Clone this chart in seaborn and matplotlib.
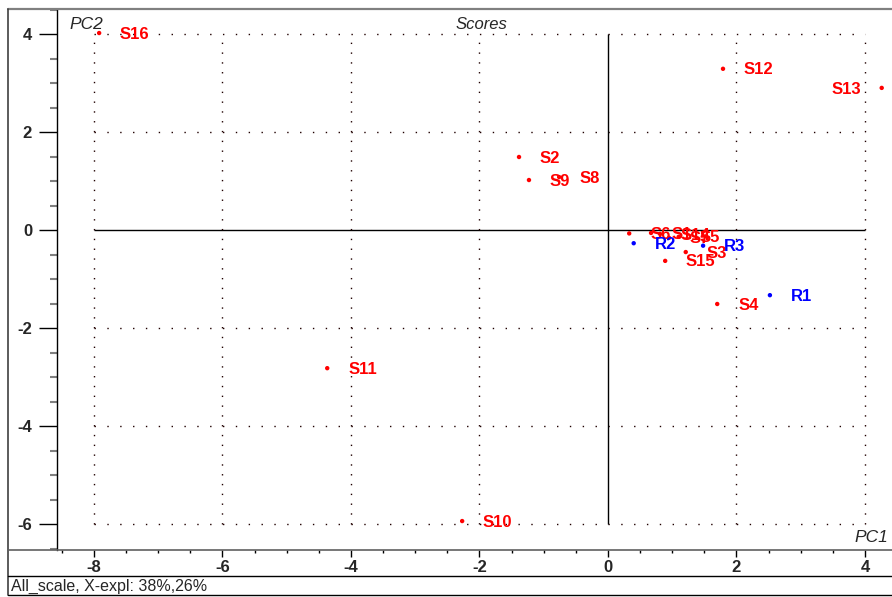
import matplotlib
matplotlib.use("Agg")
import matplotlib.pyplot as plt
from matplotlib.lines import Line2D
import seaborn as sns
import pandas as pd
import numpy as np

# Score values for the first two principal components
samples = ["S1", "S2", "S3", "S4", "S5", "S6", "S7", "S8", "S9", "S10",
           "S11", "S12", "S13", "S14", "S15", "S16", "R1", "R2", "R3"]
pc1 = [0.67, -1.385, 1.21, 1.70, 1.10, 0.33, 0.95, -0.76, -1.23, -2.27,
       -4.37, 1.79, 4.26, 0.81, 0.89, -7.92, 2.52, 0.40, 1.48]
pc2 = [-0.06, 1.49, -0.45, -1.51, -0.14, -0.07, -0.16, 1.08, 1.02, -5.94,
       -2.82, 3.29, 2.90, -0.08, -0.63, 4.02, -1.33, -0.27, -0.32]
groups = ["sample"] * 16 + ["reference"] * 3

x_ticks = [-8, -6, -4, -2, 0, 2, 4]
y_ticks = [-6, -4, -2, 0, 2, 4]

df = pd.DataFrame({"PC1": pc1, "PC2": pc2, "group": groups, "name": samples})
palette = {"sample": "#ff0000", "reference": "#0000ff"}

sns.set_style("white")
plt.rcParams["font.family"] = ["Liberation Sans", "DejaVu Sans"]

W, H = 892, 597
fig = plt.figure(figsize=(W / 100, H / 100), dpi=100)

# plot area in pixel units
left_px, right_px, top_px, bot_px = 57, 892, 9, 550
ax = fig.add_axes([left_px / W, 1 - bot_px / H, (right_px - left_px) / W,
                   (bot_px - top_px) / H])

x0_px, xscale = 608, 64.25
y0_px, yscale = 230, 49.0
ax.set_xlim((left_px - x0_px) / xscale, (right_px - x0_px) / xscale)
ax.set_ylim((y0_px - bot_px) / yscale, (y0_px - top_px) / yscale)

# dotted grid restricted to the tick range
gx0, gx1 = min(x_ticks), max(x_ticks)
gy0, gy1 = min(y_ticks), max(y_ticks)
for yv in y_ticks:
    if yv == 0:
        ax.hlines(yv, gx0, gx1, color="black", lw=1.0, zorder=1)
    else:
        ax.hlines(yv, gx0, gx1, color="#200000", lw=1.0,
                  linestyles=[(0, (1, 8.25))], zorder=1)
for xv in x_ticks:
    if xv == 0:
        ax.vlines(xv, gy0, gy1, color="black", lw=1.0, zorder=1)
    else:
        ax.vlines(xv, gy0, gy1, color="#200000", lw=1.0,
                  linestyles=[(0, (1, 6.06))], zorder=1)

sns.scatterplot(data=df, x="PC1", y="PC2", hue="group", palette=palette,
                s=10, linewidth=0, legend=False, ax=ax, zorder=3)

xmax = ax.get_xlim()[1]
for name, xv, yv, g in zip(samples, pc1, pc2, groups):
    if xv > xmax - 0.6:
        off, ha = -14.5, "right"
    else:
        off, ha = 15, "left"
    ax.annotate(name, (xv, yv), xytext=(off, -0.8), textcoords="offset points",
                ha=ha, va="center", color=palette[g], fontsize=12,
                fontweight="bold", zorder=4)

ax.set_xlabel("")
ax.set_ylabel("")
ax.set_xticks(x_ticks)
ax.set_yticks(y_ticks)
ax.set_xticks(np.arange(-8.5, 4.5, 0.5), minor=True)
ax.set_yticks(np.arange(-6.5, 4.6, 0.5), minor=True)
ax.set_xticklabels([str(v) for v in x_ticks], fontsize=12, fontweight="bold")
ax.set_yticklabels([str(v) for v in y_ticks], fontsize=12, fontweight="bold")
ax.tick_params(axis="y", which="major", direction="out", length=13, width=1,
               color="black", pad=5, left=True)
ax.tick_params(axis="y", which="minor", direction="out", length=5, width=1.5,
               color="#808080", left=True)
ax.tick_params(axis="x", which="major", direction="out", length=5, width=1,
               color="black", pad=2, bottom=True)
ax.tick_params(axis="x", which="minor", direction="out", length=2.5, width=1,
               color="black", bottom=True)

for s in ["top", "right", "bottom"]:
    ax.spines[s].set_visible(False)
ax.spines["left"].set_color("black")
ax.spines["left"].set_linewidth(1.0)

ax.text(0.015, 0.985, "PC2", transform=ax.transAxes, fontsize=12.5,
        fontstyle="italic", ha="left", va="top")
ax.text((481 - left_px) / (right_px - left_px), 0.985, "Scores",
        transform=ax.transAxes, fontsize=12, fontstyle="italic",
        ha="center", va="top")
ax.text(0.995, (bot_px - 537) / (bot_px - top_px), "PC1",
        transform=ax.transAxes, fontsize=12.5, fontstyle="italic",
        ha="right", va="center")

# frame and footer lines in figure pixel coordinates
def fig_line(x_a, y_a, x_b, y_b, color, lw):
    fig.add_artist(Line2D([x_a / W, x_b / W], [1 - y_a / H, 1 - y_b / H],
                          transform=fig.transFigure, color=color, lw=lw))

fig_line(8, 9, W, 9, "#808080", 1.6)
fig_line(8, 9, 8, 595, "#404040", 1.2)
fig_line(8, 550, W, 550, "#606060", 1.2)
fig_line(8, 576, W, 576, "black", 1.0)
fig_line(8, 594.5, W, 594.5, "black", 1.0)

fig.text(11 / W, 1 - 586 / H, "All_scale, X-expl: 38%,26%", fontsize=11.5,
         ha="left", va="center")

fig.savefig("out.png", dpi=100)
